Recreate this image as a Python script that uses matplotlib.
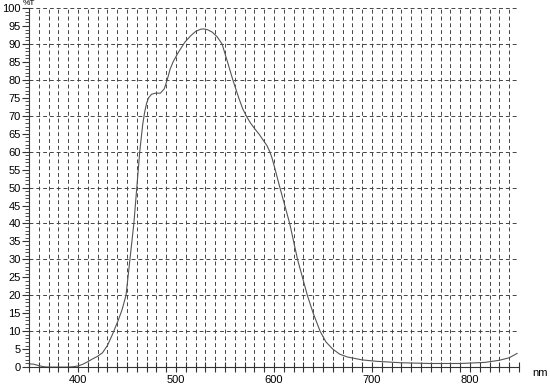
import matplotlib
matplotlib.use("Agg")
import matplotlib.pyplot as plt
from matplotlib.ticker import MultipleLocator

plt.rcParams['font.family'] = ['Liberation Sans', 'DejaVu Sans']

# transmission curve
wavelength = [350, 355, 360, 365, 370, 380, 390, 395, 400, 405, 410, 415, 420, 425, 430,
              435, 441, 445, 449, 453, 457, 460, 463, 466, 468, 470, 472, 475,
              479, 484, 488, 491, 494, 497, 502, 509, 515, 520, 525, 528, 532, 537,
              542, 547, 552, 558, 564, 568, 572, 576, 580, 585, 589, 593, 596, 598, 601, 606,
              611, 616, 620, 624, 629, 634, 640, 647, 653, 660, 667, 675, 690, 705, 730,
              760, 790, 815, 830, 840, 848]
transmission = [0.9, 0.8, 0.4, 0.1, 0.0, 0.0, 0.0, 0.1, 0.3, 0.8, 1.5, 2.3, 3.0, 4.0, 6.0,
                9.0, 13.0, 16.0, 20.0, 30, 40, 50, 60, 67.5, 71, 73.5, 75, 76,
                76.3, 76.3, 77.5, 80, 83, 85, 87.5, 90.5, 92.3, 93.5, 94.1, 94.2, 94.0, 93.3,
                92.0, 90.0, 85.5, 80, 75, 72, 69.8, 68, 66.5, 64.8, 63.2, 61.6, 59.8, 58.2, 55.2, 50,
                45, 40, 35, 30, 25, 20, 15, 10, 7, 5, 3.6, 2.8, 2.0, 1.6, 1.2,
                1.0, 1.0, 1.3, 1.9, 2.6, 3.8]

x_ticks = [400, 500, 600, 700, 800]
y_ticks = list(range(0, 101, 5))
grid_y = list(range(10, 101, 10))

fig = plt.figure(figsize=(5.5, 3.86), dpi=100)
ax = fig.add_axes([0.0527, 0.049, 0.891, 0.930])

ax.plot(wavelength, transmission, color='#555555', lw=0.8)

ax.set_xlim(350, 850)
ax.set_ylim(0, 100)

ax.set_xticks(x_ticks)
ax.xaxis.set_minor_locator(MultipleLocator(10))
ax.set_yticks(y_ticks)
ax.yaxis.set_minor_locator(MultipleLocator(1))

ax.tick_params(axis='x', which='both', direction='inout', length=7, width=0.8,
               labelsize=8, color='#333333', pad=2)
ax.tick_params(axis='y', which='major', direction='out', length=5, width=0.8,
               labelsize=8, color='#333333', pad=1)
ax.tick_params(axis='y', which='minor', direction='out', length=3, width=0.6,
               color='#333333')

dash = (0, (4, 3))
ax.grid(True, axis='x', which='both', linestyle=dash, color='#444444', lw=0.7)
for y in grid_y:
    ax.axhline(y, linestyle=dash, color='#444444', lw=0.7, zorder=0)
ax.axvline(850, linestyle=dash, color='#444444', lw=0.7, zorder=0)

ax.spines['top'].set_visible(False)
ax.spines['right'].set_visible(False)
ax.spines['left'].set_color('#333333')
ax.spines['bottom'].set_color('#333333')

fig.text(23 / 550, 1.0, '%T', fontsize=6, ha='left', va='top')
fig.text(540 / 550, 1 - 373 / 386, 'nm', fontsize=8, ha='center', va='center')

fig.savefig('out.png', dpi=100)
